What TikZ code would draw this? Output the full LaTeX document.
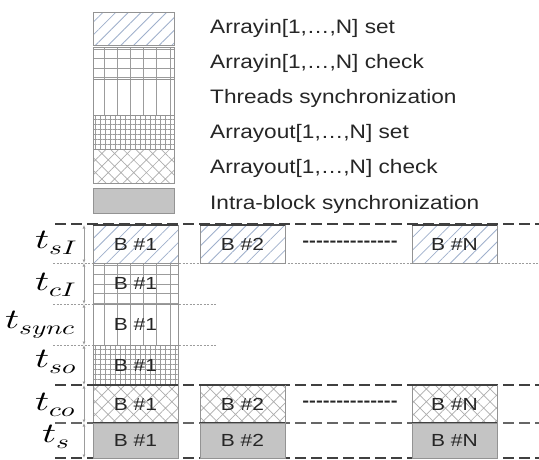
\documentclass[tikz,border=0pt]{standalone}
\usepackage{fontspec}
\usepackage{unicode-math}
\usepackage{graphicx}
\setmainfont{Liberation Sans}
\newfontfamily\legfont{Liberation Sans}[FakeStretch=1.16]
\newfontfamily\boxfont{Liberation Sans}[FakeStretch=1.2]
\usetikzlibrary{patterns.meta,arrows.meta}
\definecolor{hatchblue}{HTML}{9FB0CC}
\definecolor{gridgray}{HTML}{9C9C9C}
\definecolor{crossgray}{HTML}{ADADAD}
\definecolor{edgegray}{HTML}{939393}
\definecolor{fillgray}{HTML}{C4C4C4}
\definecolor{txt}{HTML}{262626}
\definecolor{darkline}{HTML}{404040}
\tikzset{
 gridln/.style={draw=gridgray,line width=0.9pt},
 cell/.style={draw=edgegray,line width=0.8pt,inner sep=0pt,minimum width=85pt,text=txt,
   font=\boxfont\fontsize{17.5}{20}\selectfont},
 lcell/.style={draw=edgegray,line width=0.8pt,inner sep=0pt,minimum width=81pt},
 pA/.style={preaction={pattern={Lines[angle=45,distance=9pt,line width=0.8pt]},pattern color=hatchblue}},
 pB/.style={path picture={
   \foreach \k in {0,...,5}
     \draw[gridln] ([xshift=11pt+\k*13.2pt]path picture bounding box.north west) -- ([xshift=11pt+\k*13.2pt]path picture bounding box.south west);
   \foreach \k in {0,...,4}
     \draw[gridln] ([yshift=-2pt-\k*9.5pt]path picture bounding box.north west) -- ([yshift=-2pt-\k*9.5pt]path picture bounding box.north east);
   }},
 pC/.style={path picture={
   \foreach \k in {0,...,5}
     \draw[gridln] ([xshift=11pt+\k*13.2pt]path picture bounding box.north west) -- ([xshift=11pt+\k*13.2pt]path picture bounding box.south west);
   }},
 pD/.style={preaction={pattern={Hatch[distance=5pt,line width=0.6pt]},pattern color=gridgray}},
 pE/.style={preaction={pattern={Hatch[angle=45,distance=9pt,line width=0.7pt]},pattern color=crossgray}},
 pF/.style={fill=fillgray},
 legtext/.style={anchor=west,inner sep=0pt,text=txt,font=\legfont\fontsize{19.5}{22}\selectfont},
 tlab/.style={anchor=base west,inner sep=0pt,text=black,font=\fontsize{28}{32}\selectfont},
 bigdash/.style={draw=darkline,line width=2pt,dash pattern=on 11pt off 5pt},
 middash/.style={draw=darkline!80,line width=1.4pt,dash pattern=on 11pt off 5pt},
 solidtop/.style={draw=darkline,line width=2pt},
 dotline/.style={draw=gridgray,line width=0.7pt,dash pattern=on 2pt off 1.5pt},
 axis/.style={draw=gridgray,line width=0.7pt,{Latex[length=3.5pt,width=3pt]}-{Latex[length=3.5pt,width=3pt]}},
 dots/.style={inner sep=0pt,text=txt,font=\boxfont\bfseries\fontsize{17}{20}\selectfont},
}
\begin{document}
\begin{tikzpicture}[x=1pt,y=-1pt]
\useasboundingbox[fill=white] (0,0) rectangle (539,459);
% legend
\node[lcell,pA,minimum height=33pt] (l1) at (133.5,28.5) {};
\node[lcell,pB,minimum height=32pt] (l2) at (133.5,63) {};
\node[lcell,pC,minimum height=36pt] (l3) at (133.5,97) {};
\node[lcell,pD,minimum height=34pt] (l4) at (133.5,132) {};
\node[lcell,pE,minimum height=34pt] (l5) at (133.5,166) {};
\node[lcell,pF,minimum height=25pt] (l6) at (133.5,200.5) {};
\node[legtext] (t1) at (210,28) {Arrayin[1,…,N] set};
\node[legtext] (t2) at (210,63) {Arrayin[1,…,N] check};
\node[legtext] (t3) at (210,98) {Threads synchronization};
\node[legtext] (t4) at (210,133) {Arrayout[1,…,N] set};
\node[legtext] (t5) at (210,168) {Arrayout[1,…,N] check};
\node[legtext] (t6) at (210,204) {Intra-block synchronization};
% helper coordinates
\coordinate (L1) at (55,224); \coordinate (R1) at (539,224);
\coordinate (L2) at (53,263); \coordinate (R2) at (539,263);
\coordinate (L3) at (53,304); \coordinate (R3) at (216,304);
\coordinate (L4) at (53,345); \coordinate (R4) at (217,345);
\coordinate (L5) at (55,385); \coordinate (R5) at (539,385);
\coordinate (L6) at (55,423); \coordinate (R6) at (539,423);
\coordinate (L7) at (55,458); \coordinate (R7) at (539,458);
\draw[bigdash] (L1) -- (R1);
\draw[dotline] (L2) -- (R2);
\draw[dotline] (L3) -- (R3);
\draw[dotline] (L4) -- (R4);
\draw[bigdash] (L5) -- (R5);
\draw[middash] (L6) -- (R6);
\draw[bigdash] (L7) -- (R7);
% row 1
\node[cell,pA,minimum height=38pt] (b11) at (135.5,244) {B \#1};
\node[cell,pA,minimum height=38pt] (b12) at (242.5,244) {B \#2};
\node[cell,pA,minimum height=38pt] (b1n) at (454.5,244) {B \#N};
\node[dots] (d1) at (350,244) {-{}-{}-{}-{}-{}-{}-{}-{}-{}-{}-{}-{}-{}-};
% rows 2-4
\node[cell,pB,minimum height=41pt] (b21) at (135.5,283.5) {B \#1};
\node[cell,pC,minimum height=41pt] (b31) at (135.5,324.5) {B \#1};
\node[cell,pD,minimum height=40pt] (b41) at (135.5,365) {B \#1};
% row 5
\node[cell,pE,minimum height=38pt] (b51) at (135.5,404) {B \#1};
\node[cell,pE,minimum height=38pt] (b52) at (242.5,404) {B \#2};
\node[cell,pE,minimum height=38pt] (b5n) at (454.5,404) {B \#N};
\node[dots] (d5) at (350,404) {-{}-{}-{}-{}-{}-{}-{}-{}-{}-{}-{}-{}-{}-};
% row 6
\node[cell,pF,minimum height=35pt] (b61) at (135.5,440.5) {B \#1};
\node[cell,pF,minimum height=35pt] (b62) at (242.5,440.5) {B \#2};
\node[cell,pF,minimum height=35pt] (b6n) at (454.5,440.5) {B \#N};
% solid tops
\foreach \n in {b11,b12,b1n,b51,b52,b5n} \draw[solidtop] (\n.north west) -- (\n.north east);
\foreach \n in {b61,b62,b6n} \draw[draw=darkline,line width=1.4pt] (\n.north west) -- (\n.north east);
% axis
\coordinate (a1) at (84,225); \coordinate (a2) at (84,263); \coordinate (a3) at (84,304);
\coordinate (a4) at (84,345); \coordinate (a5) at (84,385); \coordinate (a6) at (84,423);
\coordinate (a7) at (84,458);
\draw[axis] (a1) -- (a2); \draw[axis] (a2) -- (a3); \draw[axis] (a3) -- (a4);
\draw[axis] (a4) -- (a5); \draw[axis] (a5) -- (a6); \draw[axis] (a6) -- (a7);
% labels
\node[tlab] (lsI) at (35,248) {\scalebox{1.4}[1]{$t_{sI}$}};
\node[tlab] (lcI) at (35,290) {\scalebox{1.4}[1]{$t_{cI}$}};
\node[tlab] (lsync) at (5,328) {\scalebox{1.4}[1]{$t_{sync}$}};
\node[tlab] (lso) at (35,367) {\scalebox{1.4}[1]{$t_{so}$}};
\node[tlab] (lco) at (35,410) {\scalebox{1.4}[1]{$t_{co}$}};
\node[tlab] (ls) at (42,442) {\scalebox{1.4}[1]{$t_{s}$}};
\end{tikzpicture}
\end{document}
